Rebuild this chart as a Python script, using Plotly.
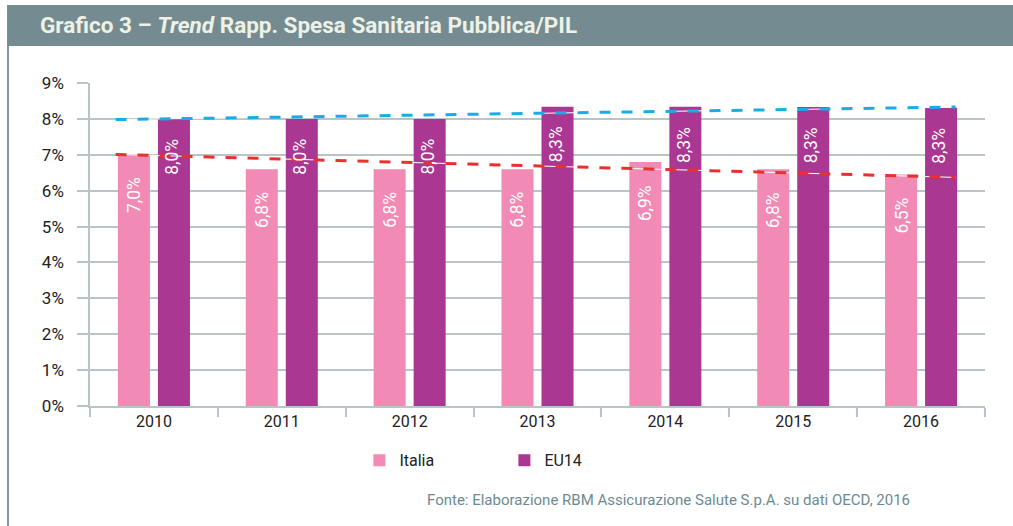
import plotly.graph_objects as go

# ---- data ----
years = ["2010", "2011", "2012", "2013", "2014", "2015", "2016"]
italia = [7.02, 6.6, 6.6, 6.6, 6.8, 6.6, 6.45]
eu14 = [8.0, 8.0, 8.0, 8.34, 8.34, 8.33, 8.31]
italia_labels = ["7,0%", "6,8%", "6,8%", "6,8%", "6,9%", "6,8%", "6,5%"]
eu14_labels = ["8,0%", "8,0%", "8,0%", "8,3%", "8,3%", "8,3%", "8,3%"]
trend_x = [-0.3, 6.27]
trend_eu14 = [7.98, 8.33]
trend_italia = [7.01, 6.37]
y_ticks = [0, 1, 2, 3, 4, 5, 6, 7, 8, 9]

PINK = "#F28AB6"
PURPLE = "#AA3791"
BLUE = "#19ADE6"
RED = "#E8312F"
GRID = "#BAC4C7"
HEADER = "#748C91"
FONT = "Roboto"

xpos = list(range(len(years)))

fig = go.Figure()
fig.add_trace(go.Bar(x=xpos, y=italia, name="Italia", marker_color=PINK,
                     marker_line_width=0))
fig.add_trace(go.Bar(x=xpos, y=eu14, name="EU14", marker_color=PURPLE,
                     marker_line_width=0))

for vals, col in [(trend_eu14, BLUE), (trend_italia, RED)]:
    fig.add_trace(go.Scatter(x=trend_x, y=vals, mode="lines", showlegend=False,
                             line=dict(color="white", width=1), hoverinfo="skip"))
    fig.add_trace(go.Scatter(x=trend_x, y=vals, mode="lines", showlegend=False,
                             line=dict(color=col, width=3, dash="11px,11px"),
                             hoverinfo="skip"))

# rotated value labels inside bars
for i in xpos:
    for vals, labs, shift, ys in [(italia, italia_labels, -20, -21),
                                  (eu14, eu14_labels, 18, -18)]:
        fig.add_annotation(x=i, y=vals[i], text=labs[i], textangle=-90,
                           xref="x", yref="y", showarrow=False,
                           xshift=shift, yshift=ys, yanchor="top", xanchor="center",
                           font=dict(family=FONT, size=17.5, color="white"))

# header band
fig.add_shape(type="rect", xref="paper", yref="paper",
              x0=-0.0927, x1=1.04, y0=1.1147, y1=1.2417,
              fillcolor=HEADER, line_width=0, layer="below")
fig.add_shape(type="line", xref="paper", yref="paper",
              x0=-0.0916, x1=-0.0916, y0=1.115, y1=-0.4,
              line=dict(color="#7E989D", width=2))
fig.add_annotation(xref="paper", yref="paper", x=-0.0581, y=1.18,
                   xanchor="left", yanchor="middle", showarrow=False,
                   text="<b>Grafico 3 – <i>Trend</i> Rapp. Spesa Sanitaria Pubblica/PIL</b>",
                   font=dict(family=FONT, size=22.5, color="#EEF1E6"))
fig.add_annotation(xref="paper", yref="paper", x=0.918, y=-0.292,
                   xanchor="right", yanchor="middle", showarrow=False,
                   text="Fonte: Elaborazione RBM Assicurazione Salute S.p.A. su dati OECD, 2016",
                   font=dict(family=FONT, size=15, color="#6E8A91"))

fig.update_layout(
    width=1013, height=526,
    margin=dict(l=90, r=28, t=83, b=120, pad=0),
    paper_bgcolor="white", plot_bgcolor="white",
    barmode="group", bargap=0.374, bargroupgap=0.2,
    font=dict(family=FONT, color="#222"),
    showlegend=True,
    legend=dict(orientation="h", x=0.301, xanchor="left", y=-0.168, yanchor="middle",
                entrywidth=100, entrywidthmode="pixels",
                font=dict(family=FONT, size=16, color="#222"),
                bgcolor="rgba(0,0,0,0)"),
    xaxis=dict(range=[-0.5, 6.5], tickmode="array", tickvals=xpos, ticktext=years,
               ticks="", showgrid=False, zeroline=False,
               showline=True, linecolor=GRID, linewidth=1.5,
               tickfont=dict(family=FONT, size=16, color="#222"),
               minor=dict(tick0=-0.5, dtick=1, ticks="outside", ticklen=9,
                          tickcolor=GRID, tickwidth=1.5, showgrid=False),
               fixedrange=True),
    yaxis=dict(range=[0, 9], tickmode="array", tickvals=y_ticks,
               ticktext=[f"{v}%" for v in y_ticks],
               showgrid=True, gridcolor=GRID, gridwidth=1.5, zeroline=False,
               showline=True, linecolor=GRID, linewidth=1.5,
               ticks="outside", ticklen=11, tickcolor=GRID, tickwidth=1.5,
               ticklabelstandoff=10,
               tickfont=dict(family=FONT, size=17, color="#222"),
               fixedrange=True),
)

fig.write_html("out.html", config={"displayModeBar": False},
               post_script="document.body.style.margin='0';document.body.style.overflow='hidden';")
